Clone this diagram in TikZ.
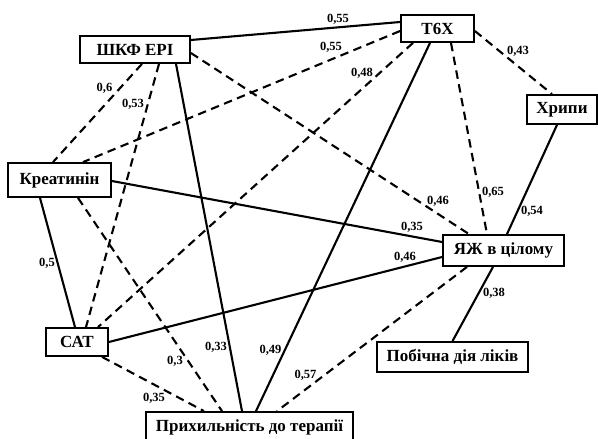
\documentclass[tikz,border=0pt]{standalone}
\usepackage{fontspec}
\setmainfont{Liberation Serif}

\begin{document}
\begin{tikzpicture}[x=1pt, y=-1pt,
  box/.style={rectangle,draw,line width=1.8pt,fill=white,inner sep=0pt,font=\fontsize{17}{20}\selectfont\bfseries},
  lbl/.style={inner sep=0pt,font=\fontsize{12.5}{14}\selectfont\bfseries},
  strong/.style={line width=2.1pt},
  weak/.style={line width=2.1pt,dash pattern=on 8.5pt off 5.5pt}]

\useasboundingbox (0,0) rectangle (598,439);

% vertices
\node[box,minimum width=110pt,minimum height=27pt] (shkf) at (135,49.5) {ШКФ ЕРІ};
\node[box,minimum width=73pt,minimum height=27pt] (t6x) at (437.5,28.5) {Т6Х};
\node[box,minimum width=70pt,minimum height=29pt] (khr) at (562,109.5) {Хрипи};
\node[box,minimum width=103pt,minimum height=34pt] (kre) at (59.5,180) {Креатинін};
\node[box,minimum width=121pt,minimum height=31pt] (yazh) at (503.5,250.5) {ЯЖ в цілому};
\node[box,minimum width=62pt,minimum height=28pt] (sat) at (77,342) {САТ};
\node[box,minimum width=151pt,minimum height=30pt] (pob) at (452.5,357) {Побічна дія ліків};
\node[box,minimum width=207pt,minimum height=31pt] (pry) at (249.5,427.5) {Прихильність до терапії};

% links
\begin{scope}[on background layer/.try]
\draw[strong] ([yshift=9.5pt]shkf.east) -- ([yshift=6.5pt]t6x.west);
\draw[weak] ([yshift=-2.5pt]t6x.west) -- ([xshift=23.5pt]kre.north);
\draw[weak] ([xshift=-24.5pt]t6x.south) -- ([xshift=21pt]sat.north);
\draw[strong] ([xshift=-7.5pt]t6x.south) -- ([xshift=6.5pt]pry.north);
\draw[weak] ([xshift=13.5pt]t6x.south) -- ([xshift=-16.5pt]yazh.north);
\draw[weak] ([yshift=-2.5pt]t6x.east) -- ([xshift=-10pt]khr.north);
\draw[weak] ([xshift=7pt]shkf.south) -- ([xshift=-6.5pt]kre.north);
\draw[weak] ([xshift=24pt]shkf.south) -- ([xshift=9pt]sat.north);
\draw[strong] ([xshift=41pt]shkf.south) -- ([xshift=-7.5pt]pry.north);
\draw[weak] ([yshift=-3.5pt]shkf.east) -- ([xshift=-34.5pt]yazh.north);
\draw[strong] ([yshift=-1pt]kre.east) -- ([yshift=8.5pt]yazh.west);
\draw[strong] ([xshift=-19.5pt]kre.south) -- ([xshift=-2pt]sat.north);
\draw[weak] ([xshift=18.5pt]kre.south) -- ([xshift=-27.5pt]pry.north);
\draw[strong] (sat.east) -- ([yshift=-6.5pt]yazh.west);
\draw[weak] ([xshift=25pt]sat.south) -- ([xshift=-45.5pt]pry.north);
\draw[weak] ([xshift=-36.5pt]yazh.south) -- ([xshift=27.5pt]pry.north);
\draw[strong] ([xshift=-5pt]khr.south) -- ([xshift=3.5pt]yazh.north);
\draw[strong] ([xshift=-10.5pt]yazh.south) -- (pob.north);
\end{scope}

% weights
\node[lbl] (w1) at (338,19) {0,55};
\node[lbl] (w2) at (331,47.5) {0,55};
\node[lbl] (w3) at (362,73) {0,48};
\node[lbl] (w4) at (518,51) {0,43};
\node[lbl] (w5) at (104.5,88) {0,6};
\node[lbl] (w6) at (133,104) {0,53};
\node[lbl] (w7) at (47,263) {0,5};
\node[lbl] (w8) at (438,201) {0,46};
\node[lbl] (w9) at (493,192) {0,65};
\node[lbl] (w10) at (532,211) {0,54};
\node[lbl] (w11) at (412,227) {0,35};
\node[lbl] (w12) at (405,257.5) {0,46};
\node[lbl] (w13) at (494,293.5) {0,38};
\node[lbl] (w14) at (216,347) {0,33};
\node[lbl] (w15) at (270.5,350) {0,49};
\node[lbl] (w16) at (175,361) {0,3};
\node[lbl] (w17) at (154,398) {0,35};
\node[lbl] (w18) at (305.5,375) {0,57};

\end{tikzpicture}
\end{document}
